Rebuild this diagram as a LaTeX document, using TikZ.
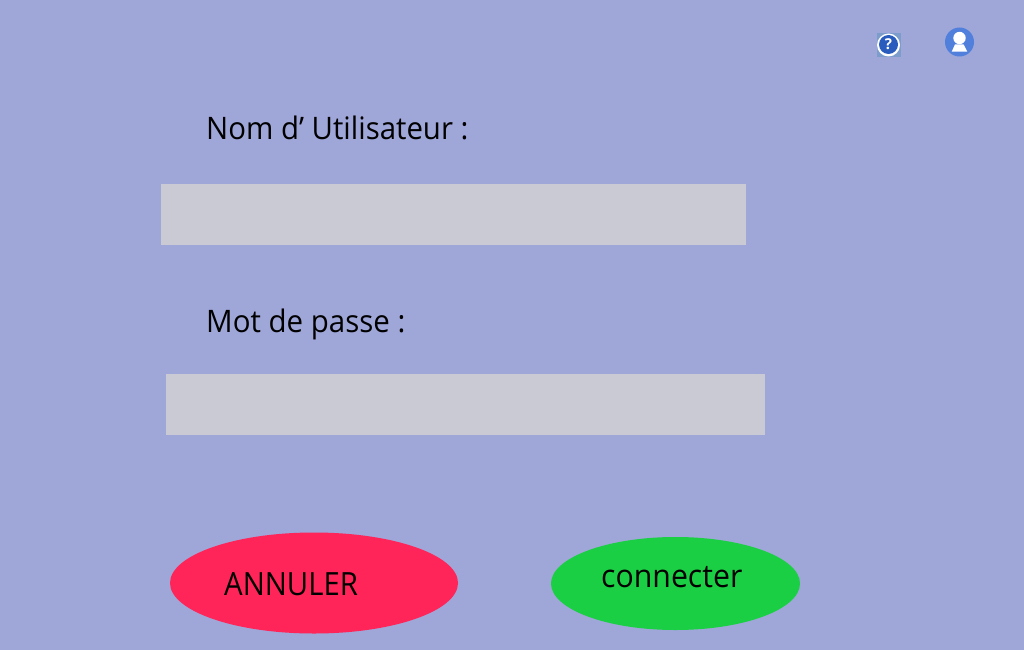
\documentclass[tikz,border=0pt]{standalone}
\usepackage{fontspec}
\setmainfont{Open Sans}
\usetikzlibrary{shapes.geometric}
\definecolor{bgc}{HTML}{9FA6D8}
\definecolor{fieldc}{HTML}{C9CAD4}
\definecolor{redc}{HTML}{FF2559}
\definecolor{greenc}{HTML}{1BCF44}
\definecolor{userc}{HTML}{5080DC}
\definecolor{helpc}{HTML}{2A5CBE}
\definecolor{helpbg}{HTML}{7C9CCC}
\tikzset{
  lab/.style={inner sep=0pt,anchor=base west,text=black,font=\fontsize{31}{36}\selectfont},
  field/.style={fill=fieldc,draw=none,inner sep=0pt,minimum height=#1,anchor=north west},
  btn/.style={ellipse,draw=none,inner sep=0pt},
  btnlab/.style={inner sep=0pt,anchor=base west,text=black}
}
\begin{document}
\begin{tikzpicture}[x=1pt,y=-1pt]
\useasboundingbox (0,0) rectangle (1024,650);
\fill[bgc] (0,0) rectangle (1024,650);
\node[field=61pt,minimum width=585pt] (userfield) at (161,184) {};
\node[field=61pt,minimum width=599pt] (passfield) at (166,374) {};
\node[lab] (userlab) at (206,139.5) {\scalebox{0.948}[1]{Nom d’ Utilisateur :}};
\node[lab] (passlab) at (206,332) {\scalebox{0.95}[1]{Mot de passe :}};
\node[btn,fill=redc,minimum width=288pt,minimum height=101pt] (cancel) at (314,583) {};
\node[btn,fill=greenc,minimum width=249pt,minimum height=93pt] (connect) at (675.5,583.5) {};
\node[btnlab,font=\fontsize{32}{36}\selectfont] (cancellab) at (224,595) {\scalebox{0.916}[1]{ANNULER}};
\node[btnlab,font=\fontsize{32}{36}\selectfont] (connectlab) at (601,587) {\scalebox{0.945}[1]{connecter}};
% help icon
\fill[helpbg] (877,33) rectangle (901,57);
\fill[white] (888.5,45) circle (11.5);
\fill[helpc] (888.5,44.5) circle (9.5);
\node[inner sep=0pt,text=white,font=\bfseries\fontsize{15}{18}\selectfont] (helpmark) at (888.5,44.5) {?};
% user icon
\fill[userc] (959.5,42) circle (14.5);
\fill[white] (959.5,38) circle (6.2);
\fill[white] (955,44.3) -- (963.5,44.3) -- (967.3,51.7) -- (951.7,51.7) -- cycle;
\end{tikzpicture}
\end{document}
